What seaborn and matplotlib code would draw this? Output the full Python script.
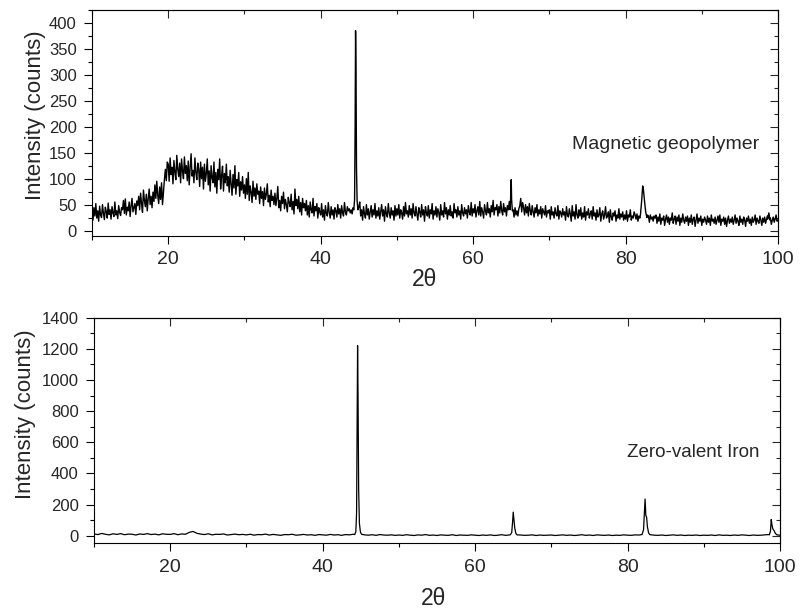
import numpy as np
import matplotlib
matplotlib.use('Agg')
import matplotlib.pyplot as plt
from matplotlib.ticker import MultipleLocator
import seaborn as sns

# ---- data (2theta scan, counts) ----
# magnetic geopolymer: background every 0.125 deg from 10 to 100 (one row = 2 deg)
geo_bg_counts = [
    35, 20, 44, 28, 52, 24, 38, 18, 47, 30, 25, 50, 33, 21, 45, 36,
    24, 53, 31, 40, 22, 46, 34, 27, 55, 30, 38, 23, 48, 35, 29, 44,
    40, 58, 33, 61, 30, 45, 38, 55, 27, 48, 62, 36, 44, 52, 31, 57,
    48, 66, 40, 72, 52, 35, 78, 58, 46, 70, 38, 62, 80, 50, 66, 44,
    74, 56, 88, 62, 95, 68, 52, 84, 60, 92, 50, 75, 98, 118, 96, 132,
    128, 95, 140, 108, 122, 90, 135, 112, 98, 145, 118, 104, 130, 92, 138, 115,
    100, 142, 110, 125, 96, 134, 88, 120, 148, 105, 116, 92, 140, 112, 98, 130,
    118, 85, 132, 100, 122, 80, 128, 95, 110, 138, 88, 115, 76, 125, 102, 92,
    132, 84, 112, 72, 118, 98, 138, 80, 106, 124, 76, 110, 92, 128, 86, 104,
    74, 116, 90, 68, 108, 82, 125, 70, 98, 86, 112, 66, 94, 78, 104, 72,
    88, 62, 100, 70, 112, 58, 86, 74, 54, 95, 66, 82, 60, 90, 70, 76,
    52, 84, 62, 75, 48, 82, 60, 70, 90, 55, 68, 46, 78, 58, 66, 50,
    72, 48, 62, 85, 44, 58, 38, 66, 52, 74, 42, 60, 50, 36, 64, 54,
    46, 70, 40, 56, 32, 80, 48, 60, 42, 66, 36, 54, 30, 62, 44, 52,
    38, 58, 30, 48, 26, 55, 40, 34, 62, 28, 46, 38, 52, 24, 44, 36,
    30, 52, 26, 40, 20, 48, 33, 28, 54, 35, 24, 46, 30, 40, 22, 44,
    38, 26, 50, 32, 42, 24, 48, 34, 28, 54, 36, 30, 46, 38, 42, 34,
    40, 32, 44, 38, 40, 36, 42, 40, 45, 55, 28, 40, 20, 46, 32, 24,
    50, 30, 42, 22, 36, 48, 26, 40, 30, 52, 24, 38, 28, 44, 22, 36,
    50, 28, 40, 18, 46, 32, 26, 52, 34, 24, 44, 30, 38, 20, 48, 28,
    42, 30, 50, 24, 40, 34, 22, 46, 28, 54, 32, 38, 26, 48, 30, 42,
    24, 52, 34, 28, 46, 32, 20, 44, 36, 26, 50, 30, 40, 18, 46, 34,
    28, 48, 24, 40, 32, 52, 22, 38, 30, 46, 26, 42, 34, 20, 50, 30,
    38, 26, 54, 32, 44, 22, 40, 30, 48, 28, 36, 24, 52, 34, 40, 26,
    46, 30, 38, 22, 50, 34, 28, 44, 32, 40, 24, 48, 36, 30, 54, 28,
    42, 34, 50, 26, 38, 46, 30, 56, 28, 44, 36, 24, 50, 38, 30, 54,
    34, 42, 26, 48, 36, 58, 30, 44, 40, 50, 28, 46, 34, 56, 38, 30,
    52, 36, 44, 28, 48, 40, 56, 42, 48, 32, 40, 26, 44, 30, 38, 28,
    42, 48, 62, 36, 54, 44, 30, 50, 34, 46, 28, 52, 38, 30, 48, 36,
    26, 44, 34, 50, 28, 40, 32, 46, 24, 42, 36, 30, 48, 26, 38, 34,
    40, 22, 46, 30, 36, 24, 44, 32, 28, 48, 22, 38, 34, 26, 42, 30,
    36, 20, 46, 30, 26, 42, 32, 18, 48, 28, 36, 22, 50, 30, 24, 40,
    28, 44, 22, 34, 26, 46, 20, 36, 30, 42, 24, 32, 38, 22, 46, 28,
    34, 20, 40, 26, 30, 44, 18, 32, 38, 22, 30, 46, 24, 28, 36, 16,
    40, 26, 20, 34, 28, 38, 18, 30, 24, 42, 22, 32, 26, 36, 20, 30,
    22, 38, 18, 30, 26, 40, 20, 28, 24, 36, 30, 22, 32, 18, 28, 24,
    34, 30, 36, 32, 40, 34, 36, 30, 28, 16, 30, 22, 26, 18, 28, 24,
    30, 14, 26, 18, 32, 12, 24, 20, 28, 10, 22, 30, 16, 26, 12, 24,
    20, 34, 14, 22, 28, 12, 26, 18, 30, 10, 24, 16, 32, 20, 14, 26,
    18, 28, 10, 24, 16, 30, 12, 22, 26, 8, 20, 32, 14, 24, 18, 28,
    10, 22, 16, 26, 20, 12, 28, 16, 24, 10, 30, 18, 22, 14, 26, 12,
    20, 28, 16, 30, 10, 22, 18, 26, 12, 24, 8, 20, 28, 14, 22, 16,
    26, 12, 20, 30, 14, 24, 18, 10, 28, 16, 22, 12, 26, 20, 8, 24,
    18, 28, 14, 22, 10, 26, 16, 20, 30, 12, 24, 18, 14, 28, 20, 10,
    24, 16, 26, 14, 22, 28, 36, 30, 24, 12, 20, 26, 16, 22, 30, 18,
    20,
]
geo_peaks = [
    ([44.35, 44.45, 44.52, 44.58, 44.64, 44.70, 44.78, 44.88], [40, 60, 200, 385, 300, 120, 58, 40]),
    ([64.85, 64.95, 65.00, 65.05, 65.15], [40, 70, 98, 60, 38]),
    ([81.95, 82.10, 82.25, 82.35, 82.50, 82.65, 82.80], [30, 55, 86, 78, 55, 35, 25]),
    ([98.65, 98.80, 98.95], [22, 34, 20]),
]

# zero-valent iron: background every 0.5 deg from 10 to 100
zvi_bg_counts = [
    12, 8, 15, 10, 6, 13, 9, 14, 7, 11, 10, 5, 12, 9, 14, 8, 11, 6, 13, 10,
    9, 14, 7, 12, 10, 22, 28, 16, 11, 8, 13, 6, 10, 9, 12, 5, 8, 11, 7, 9,
    6, 10, 4, 8, 7, 11, 5, 9, 6, 3, 8, 7, 10, 4, 6, 9, 5, 7, 3, 8,
    6, 4, 9, 5, 7, 3, 8, 6, 10, 12, 10, 6, 4, 7, 3, 8, 5, 4, 6, 3,
    5, 3, 7, 4, 2, 6, 4, 8, 3, 5, 2, 6, 4, 3, 7, 2, 5, 4, 3, 6,
    4, 2, 5, 3, 6, 2, 4, 7, 3, 5, 6, 8, 5, 3, 4, 6, 2, 5, 3, 4,
    5, 2, 4, 6, 3, 5, 2, 4, 7, 3, 5, 2, 6, 4, 3, 5, 2, 4, 3, 6,
    4, 3, 6, 5, 8, 10, 7, 4, 3, 5, 2, 4, 6, 3, 5, 2, 4, 3, 5, 2,
    4, 3, 5, 2, 6, 3, 4, 2, 5, 3, 6, 4, 2, 5, 3, 4, 6, 8, 10, 5,
    4,
]
zvi_peaks = [
    ([44.20, 44.35, 44.45, 44.52, 44.58, 44.64, 44.72, 44.82, 44.95, 45.10],
     [8, 25, 150, 700, 1220, 900, 300, 80, 25, 10]),
    ([64.60, 64.80, 64.92, 65.00, 65.08, 65.20, 65.35, 65.50], [6, 20, 90, 152, 110, 50, 15, 6]),
    ([81.90, 82.10, 82.20, 82.30, 82.40, 82.50, 82.60, 82.75, 82.90], [8, 40, 140, 236, 130, 120, 60, 20, 8]),
    ([98.60, 98.75, 98.85, 98.95, 99.05, 99.20, 99.40, 99.60], [6, 30, 105, 70, 45, 35, 15, 6]),
]

geo_label = 'Magnetic geopolymer'
zvi_label = 'Zero-valent Iron'


def merge_scan(step, bg_counts, peaks):
    x = 10 + step * np.arange(len(bg_counts))
    y = np.asarray(bg_counts, dtype=float)
    keep = np.ones(len(x), dtype=bool)
    for px, _ in peaks:
        keep &= ~((x >= min(px)) & (x <= max(px)))
    xs = np.concatenate([x[keep]] + [np.asarray(px) for px, _ in peaks])
    ys = np.concatenate([y[keep]] + [np.asarray(py, dtype=float) for _, py in peaks])
    order = np.argsort(xs)
    return xs[order], ys[order]


geo_x, geo_y = merge_scan(0.125, geo_bg_counts, geo_peaks)
zvi_x, zvi_y = merge_scan(0.5, zvi_bg_counts, zvi_peaks)

sns.set_style('ticks')
plt.rcParams['font.family'] = ['Liberation Sans', 'DejaVu Sans']

fig = plt.figure(figsize=(8, 6.15), dpi=100)
ax1 = fig.add_axes([0.115, 0.6167, 0.8575, 0.367])
ax2 = fig.add_axes([0.1175, 0.1166, 0.8575, 0.367])


def style_axis(ax, ylim, ymaj, ymin, label_x, label_y, xlab_x, xlab_y):
    ax.set_xlim(10, 100)
    ax.set_ylim(*ylim)
    ax.xaxis.set_major_locator(MultipleLocator(20))
    ax.xaxis.set_minor_locator(MultipleLocator(10))
    ax.yaxis.set_major_locator(MultipleLocator(ymaj))
    ax.yaxis.set_minor_locator(MultipleLocator(ymin))
    ax.tick_params(which='both', direction='out', width=0.8, color='black', top=False, right=False)
    ax.tick_params(which='major', length=6, pad=5)
    ax.tick_params(which='minor', length=3)
    ax.tick_params(axis='x', labelsize=14)
    ax.tick_params(axis='y', labelsize=12)
    for s in ax.spines.values():
        s.set_visible(True)
        s.set_linewidth(0.8)
        s.set_color('black')
    ax.set_xlabel('2θ', fontsize=16.5)
    ax.set_ylabel('Intensity (counts)', fontsize=16)
    ax.yaxis.set_label_coords(label_x, label_y)
    ax.xaxis.set_label_coords(xlab_x, xlab_y)

    top = ax.secondary_xaxis('top')
    top.xaxis.set_major_locator(MultipleLocator(20))
    top.xaxis.set_minor_locator(MultipleLocator(10))
    top.tick_params(which='both', direction='in', width=0.8, labeltop=False)
    top.tick_params(which='major', length=6)
    top.tick_params(which='minor', length=3)
    top.spines['top'].set_linewidth(0.8)

    right = ax.secondary_yaxis('right')
    right.yaxis.set_major_locator(MultipleLocator(ymaj))
    right.yaxis.set_minor_locator(MultipleLocator(ymin))
    right.tick_params(which='both', direction='in', width=0.8, labelright=False)
    right.tick_params(which='major', length=6)
    right.tick_params(which='minor', length=3)
    right.spines['right'].set_linewidth(0.8)


sns.lineplot(x=geo_x, y=geo_y, ax=ax1, color='black', linewidth=1.0,
             estimator=None, sort=False, legend=False)
style_axis(ax1, (-10, 425), 50, 25, -0.067, 0.535, 0.485, -0.142)
ax1.text(73.0, 165, geo_label, fontsize=14, ha='left', va='center')

sns.lineplot(x=zvi_x, y=zvi_y, ax=ax2, color='black', linewidth=0.9,
             estimator=None, sort=False, legend=False)
style_axis(ax2, (-48, 1400), 200, 100, -0.0845, 0.571, 0.495, -0.195)
ax2.text(79.9, 537, zvi_label, fontsize=13.5, ha='left', va='center')

fig.savefig('out.png', dpi=100)
